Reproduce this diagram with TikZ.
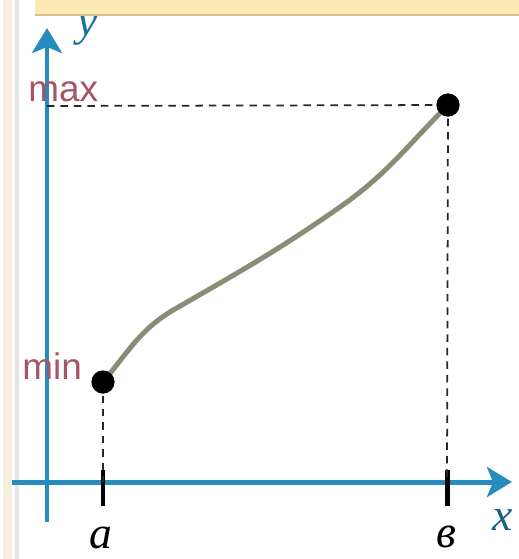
\documentclass[tikz,border=0pt]{standalone}
\usepackage{fontspec}
\setmainfont{Liberation Serif}
\newfontfamily\labelsans{Liberation Sans}
\usetikzlibrary{arrows.meta,positioning}
\definecolor{axisblue}{RGB}{38,140,192}
\definecolor{limred}{RGB}{165,85,100}
\definecolor{curvegray}{RGB}{140,140,118}
\definecolor{bandyellow}{RGB}{251,234,178}
\definecolor{bandedge}{RGB}{210,195,145}
\definecolor{stripbeige}{RGB}{246,239,222}

\begin{document}
\begin{tikzpicture}[
    x=0.02cm, y=-0.02cm,
    axis/.style={
        draw=axisblue,
        line width=0.1cm,
        -{Stealth[length=0.5cm,width=0.6cm,inset=0.12cm]}
    },
    tick/.style={draw=black, line width=0.1cm},
    guide/.style={draw=black!85, line width=1pt, dash pattern=on 0.15cm off 0.12cm},
    endpoint/.style={
        circle,
        fill=black,
        inner sep=0pt,
        minimum size=0.46cm
    },
    limlabel/.style={
        text=limred,
        font=\labelsans\fontsize{21}{21}\selectfont,
        inner sep=0pt,
        anchor=base west
    },
    axlabel/.style={
        font=\itshape\fontsize{26}{26}\selectfont,
        inner sep=0pt
    }
]
\useasboundingbox (0,0) rectangle (519,559);

% frame on the left
\fill[stripbeige] (3,0) rectangle (12,559);
\draw[gray!20, line width=2pt] (17,0) -- (17,559);

% axes
\coordinate (origin) at (47,482);
\coordinate (ybottom) at (47,522);
\coordinate (ytop) at (47,28);
\coordinate (xleft) at (12,482);
\coordinate (xright) at (512,482);
\draw[axis] (ybottom) -- (ytop);
\draw[axis] (xleft) -- (xright);

\node[axlabel, text=axisblue!80!black] (ylab) at (88,30) {y};
\node[axlabel, text=axisblue!70!black] (xlab) at (503,520) {x};

% ticks
\coordinate (tickA) at (103,482);
\coordinate (tickB) at (447,482);
\draw[tick] (103,470) -- (103,506);
\draw[tick] (447,470) -- (447,506);
\node[axlabel] (alab) at (101,538) {a};
\node[axlabel] (blab) at (446,537) {в};

% end points of the graph
\node[endpoint] (pmin) at (103,382) {};
\node[endpoint] (pmax) at (448,105) {};
\coordinate (ymax) at (47,106);

% guide lines
\draw[guide] (ymax) -- (pmax.center);
\draw[guide] (pmax.center) -- (tickB);
\draw[guide] (pmin.center) -- (tickA);

% graph
\draw[curvegray, line width=0.1cm, line cap=round]
    (pmin.center) to[out=50,in=210] (175,309)
    to[out=30,in=215] (340,207)
    to[out=35,in=225] (pmax.center);
\node[endpoint] at (pmin) {};
\node[endpoint] at (pmax) {};

% labels
\node[limlabel] (maxlab) at (28,101) {max};
\node[limlabel] (minlab) at (22,379) {min};

% band on top
\fill[bandyellow] (35,0) rectangle (519,14);
\draw[bandedge, line width=1.5pt] (35,15) -- (519,15);
\end{tikzpicture}
\end{document}
